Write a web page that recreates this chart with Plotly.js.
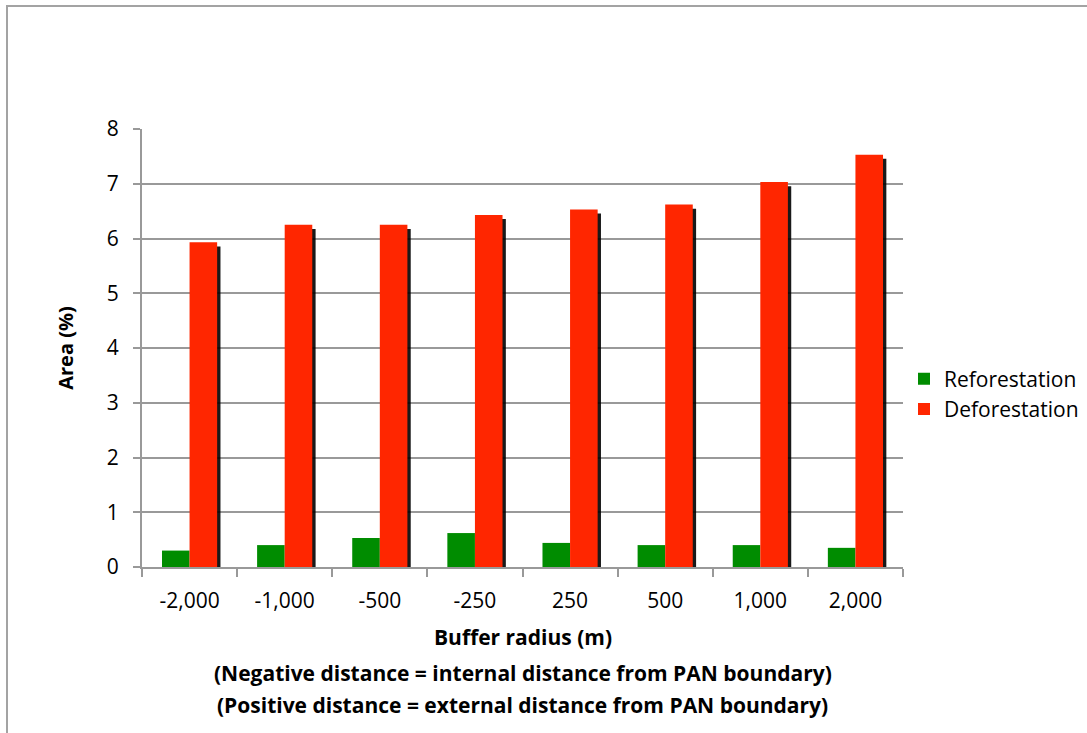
<!DOCTYPE html>
<html>
<head>
<meta charset="utf-8">
<script src="https://cdn.plot.ly/plotly-3.0.1.min.js"></script>
<style>
  html, body { margin: 0; padding: 0; background: #fff; overflow: hidden; }
  #chart { width: 1087px; height: 733px; position: absolute; left: 0; top: 0; }
  #frame { position: absolute; left: 6px; top: 5px; width: 1200px; height: 900px;
           border-top: 2px solid #a3a3a3; border-left: 2px solid #a3a3a3; pointer-events: none; }
</style>
</head>
<body>
<div id="chart"></div>
<div id="frame"></div>
<script>
const categories = ["-2,000", "-1,000", "-500", "-250", "250", "500", "1,000", "2,000"];
const reforestation = [0.30, 0.40, 0.53, 0.62, 0.44, 0.40, 0.40, 0.35];
const deforestation = [5.93, 6.25, 6.25, 6.43, 6.53, 6.62, 7.03, 7.53];
const seriesNames = ["Reforestation", "Deforestation"];
const yTicks = [0, 1, 2, 3, 4, 5, 6, 7, 8];

const FONT = "Open Sans, Lato, sans-serif";
const barW = 0.29;

const traces = [
  { // drop shadow of deforestation bars (drawn underneath)
    type: "bar", x: categories, y: deforestation, xaxis: "x", yaxis: "y",
    width: barW, offset: 0.035, marker: { color: "rgba(0,0,0,0.9)", line: { width: 0 } },
    showlegend: false, hoverinfo: "skip"
  },
  {
    type: "bar", name: seriesNames[0], x: categories, y: reforestation, xaxis: "x", yaxis: "y2",
    width: barW, offset: -barW, marker: { color: "#008c00", line: { width: 0 } }
  },
  {
    type: "bar", name: seriesNames[1], x: categories, y: deforestation, xaxis: "x", yaxis: "y2",
    width: barW, offset: 0, marker: { color: "#ff2600", line: { width: 0 } }
  }
];

const plotH = 438;
const layout = {
  width: 1087, height: 733,
  margin: { l: 142, r: 184, t: 129, b: 166, pad: 0 },
  paper_bgcolor: "#ffffff", plot_bgcolor: "#ffffff",
  font: { family: FONT, size: 21, color: "#000000" },
  barmode: "overlay",
  showlegend: true,
  legend: {
    xref: "container", yref: "container",
    x: 904 / 1087, xanchor: "left", y: 1 - 394 / 733, yanchor: "middle",
    font: { family: FONT, size: 21, color: "#000" },
    bgcolor: "rgba(0,0,0,0)", borderwidth: 0, traceorder: "normal",
    itemclick: false, itemdoubleclick: false
  },
  xaxis: {
    type: "category", range: [-0.5, 7.5], fixedrange: true,
    showgrid: false, showline: true, linecolor: "#999999", linewidth: 2,
    ticks: "outside", tickson: "boundaries", ticklen: 8, tickwidth: 2, tickcolor: "#999999",
    ticklabelstandoff: 14,
    tickfont: { family: FONT, size: 21, color: "#000" },
    zeroline: false, automargin: false
  },
  yaxis: { // hidden axis for the shadow, shifted down a few px
    range: [0.075, 8.075], visible: false, fixedrange: true,
    showgrid: false, zeroline: false
  },
  yaxis2: {
    overlaying: "y", side: "left", range: [0, 8], fixedrange: true,
    tickmode: "array", tickvals: yTicks, ticktext: yTicks.map(String),
    showgrid: true, gridcolor: "#999999", gridwidth: 2,
    showline: true, linecolor: "#999999", linewidth: 2,
    ticks: "outside", ticklen: 7, tickwidth: 2, tickcolor: "#999999",
    ticklabelstandoff: 10,
    tickfont: { family: FONT, size: 21, color: "#000" },
    zeroline: false, automargin: false,
    title: { text: "Area (%)", standoff: 28, font: { family: FONT, size: 20, color: "#000", weight: "bold" } }
  },
  annotations: [
    { text: "Buffer radius (m)", x: 0.5, y: -70 / plotH, xref: "paper", yref: "paper",
      showarrow: false, xanchor: "center", yanchor: "middle",
      font: { family: FONT, size: 21, color: "#000", weight: "bold" } },
    { text: "(Negative distance = internal distance from PAN boundary)", x: 0.5, y: -106 / plotH,
      xref: "paper", yref: "paper", showarrow: false, xanchor: "center", yanchor: "middle",
      font: { family: FONT, size: 21, color: "#000", weight: "bold" } },
    { text: "(Positive distance = external distance from PAN boundary)", x: 0.5, y: -138 / plotH,
      xref: "paper", yref: "paper", showarrow: false, xanchor: "center", yanchor: "middle",
      font: { family: FONT, size: 21, color: "#000", weight: "bold" } }
  ]
};

Plotly.newPlot("chart", traces, layout, { displayModeBar: false, staticPlot: true });
</script>
</body>
</html>
